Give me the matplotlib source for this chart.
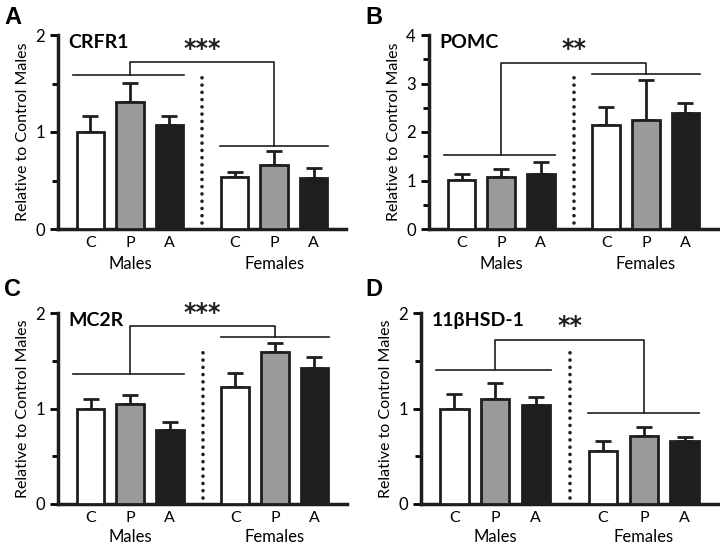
import matplotlib.pyplot as plt
from matplotlib.ticker import MultipleLocator

plt.rcParams['font.family'] = ['Lato', 'DejaVu Sans']

groups = ["C", "P", "A"]
sexes = ["Males", "Females"]
genes = ["CRFR1", "POMC", "MC2R", "11βHSD-1"]
panels = ["A", "B", "C", "D"]
ymax = [2, 4, 2, 2]

male_mean = [[1.00, 1.31, 1.07], [1.01, 1.08, 1.14], [1.00, 1.05, 0.77], [1.00, 1.10, 1.04]]
male_err = [[0.17, 0.20, 0.10], [0.13, 0.16, 0.24], [0.10, 0.09, 0.09], [0.15, 0.17, 0.08]]
female_mean = [[0.54, 0.66, 0.53], [2.14, 2.25, 2.39], [1.22, 1.59, 1.42], [0.56, 0.71, 0.66]]
female_err = [[0.05, 0.14, 0.10], [0.38, 0.83, 0.21], [0.15, 0.10, 0.12], [0.10, 0.10, 0.04]]

# horizontal group lines and bracket top, in data units
male_line = [1.59, 1.52, 1.36, 1.40]
female_line = [0.86, 3.20, 1.75, 0.95]
bracket_top = [1.72, 3.43, 1.86, 1.72]
stars = ["***", "**", "***", "**"]

colors = ["white", "#9a9a9a", "#1e1e1e"]
x_m = [0, 1, 2]
x_f = [3.65, 4.65, 5.65]

fig = plt.figure(figsize=(7.2, 5.48), dpi=100)
W, H = 720, 548
boxes = [(58, 346, 35, 229), (429, 718, 35, 229), (58, 347, 313, 504), (421, 718, 313, 504)]
letter_pos = [(4, 18), (365, 18), (4, 290), (365, 290)]
sex_offset = [25, 25, 24, 24]  # points below the axis

for i in range(4):
    l, r, t, b = boxes[i]
    ax = fig.add_axes([l / W, 1 - b / H, (r - l) / W, (b - t) / H])
    w = 0.7
    ax.bar(x_m, male_mean[i], w, color=colors, edgecolor="#1e1e1e", linewidth=2, zorder=3)
    ax.bar(x_f, female_mean[i], w, color=colors, edgecolor="#1e1e1e", linewidth=2, zorder=3)
    ax.errorbar(x_m, [m + e / 2 for m, e in zip(male_mean[i], male_err[i])],
                yerr=[[e / 2 for e in male_err[i]], [e / 2 for e in male_err[i]]],
                fmt="none", ecolor="#1e1e1e", elinewidth=2, capsize=6, capthick=2, zorder=2)
    ax.errorbar(x_f, [m + e / 2 for m, e in zip(female_mean[i], female_err[i])],
                yerr=[[e / 2 for e in female_err[i]], [e / 2 for e in female_err[i]]],
                fmt="none", ecolor="#1e1e1e", elinewidth=2, capsize=6, capthick=2, zorder=2)

    # group lines and bracket
    ax.plot([x_m[0] - 0.45, x_m[2] + 0.36], [male_line[i]] * 2, color="#1e1e1e", lw=1.2)
    ax.plot([x_f[0] - 0.36, x_f[2] + 0.36], [female_line[i]] * 2, color="#1e1e1e", lw=1.2)
    ax.plot([x_m[1], x_m[1], x_f[1], x_f[1]],
            [male_line[i], bracket_top[i], bracket_top[i], female_line[i]],
            color="#1e1e1e", lw=1.2)
    mid = (x_m[2] + x_f[0]) / 2
    ax.annotate(stars[i], (mid, bracket_top[i]), xytext=(0, 1), textcoords="offset points",
                ha="center", va="bottom", fontsize=17, fontweight="bold",
                family="DejaVu Sans", color="#1e1e1e", annotation_clip=False)
    ax.plot([mid, mid], [ymax[i] * 0.03, ymax[i] * 0.81], color="#1e1e1e", lw=2.6,
            linestyle=(0, (0.01, 2.0)), dash_capstyle="round", zorder=1)

    ax.set_xlim(-0.82, 6.47)
    ax.set_ylim(0, ymax[i])
    ax.yaxis.set_major_locator(MultipleLocator(1))
    ax.yaxis.set_minor_locator(MultipleLocator(0.5))
    ax.set_xticks(x_m + x_f)
    ax.set_xticklabels(groups + groups, fontsize=11.5)
    ax.tick_params(axis="x", length=0, pad=5)
    ax.tick_params(axis="y", which="both", direction="out", width=2, labelsize=12)
    ax.tick_params(axis="y", which="major", length=6)
    ax.tick_params(axis="y", which="minor", length=4)
    for s in ["top", "right"]:
        ax.spines[s].set_visible(False)
    for s in ["left", "bottom"]:
        ax.spines[s].set_linewidth(2.5)
        ax.spines[s].set_color("#1e1e1e")
    ax.set_ylabel("Relative to Control Males", fontsize=11.5, labelpad=4)

    for xs, name in zip([x_m, x_f], sexes):
        ax.annotate(name, (xs[1], 0), xycoords=("data", "axes fraction"),
                    xytext=(0, -sex_offset[i]), textcoords="offset points",
                    ha="center", va="center", fontsize=12, annotation_clip=False)

    ax.text(0.035, 0.96, genes[i], transform=ax.transAxes, ha="left", va="center",
            fontsize=14, fontweight="bold")
    fig.text(letter_pos[i][0] / W, 1 - letter_pos[i][1] / H, panels[i],
             fontsize=17, fontweight="bold", family="Liberation Sans", va="center")

fig.savefig("out.png", dpi=100)
